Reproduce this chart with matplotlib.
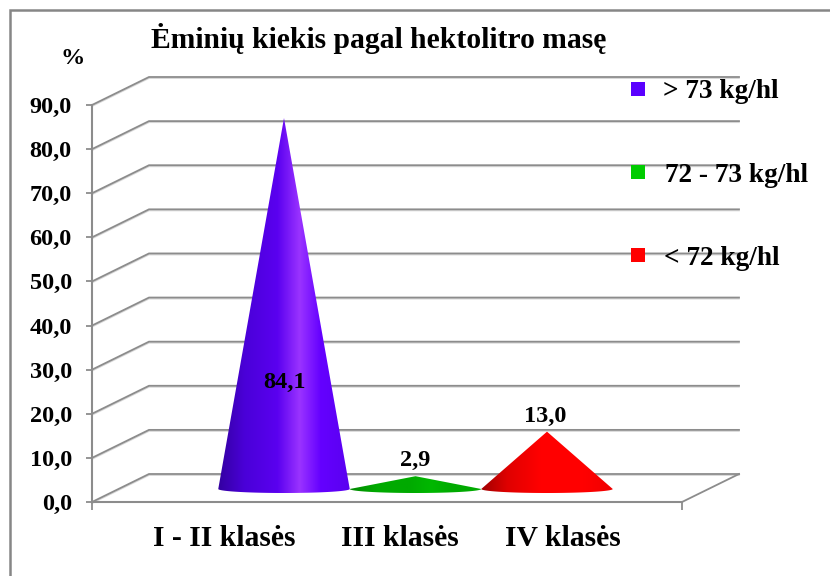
import numpy as np
import matplotlib
matplotlib.use("Agg")
import matplotlib.pyplot as plt
from matplotlib.colors import LinearSegmentedColormap
from matplotlib.patches import Polygon, Rectangle

plt.rcParams['font.family'] = ['Liberation Serif', 'DejaVu Serif']
plt.rcParams['font.weight'] = 'bold'

title = 'Ėminių kiekis pagal hektolitro masę'
categories = ['I - II klasės', 'III klasės', 'IV klasės']
values = [84.1, 2.9, 13.0]
value_labels = ['84,1', '2,9', '13,0']
y_ticks = [0, 10, 20, 30, 40, 50, 60, 70, 80, 90]
y_tick_labels = ['0,0', '10,0', '20,0', '30,0', '40,0', '50,0', '60,0', '70,0', '80,0', '90,0']
legend_labels = ['> 73 kg/hl', '72 - 73 kg/hl', '< 72 kg/hl']
legend_colors = ['#5a00ff', '#00cc00', '#ff0000']

# horizontal shading of each cone, left to right
cone_shades = [
    ['#3300a0', '#4a00d8', '#5a00f0', '#9a33ff', '#6400ff', '#5a00f0'],
    ['#008800', '#00aa00', '#00aa00', '#00b800', '#00aa00', '#00aa00'],
    ['#a00000', '#e00000', '#ff0000', '#ff0000', '#ff0000', '#f00000'],
]

W, H = 830, 576
GRID = '#8c8c8c'
SHADOW = '#d8d8d8'

fig = plt.figure(figsize=(W / 100, H / 100), dpi=100)
# pixel box of the front plane
ax = fig.add_axes([92 / W, 1 - 502 / H, 590 / W, 397 / H])
ax.patch.set_visible(False)

# outer frame runs off the picture at right and bottom
fig.add_artist(Rectangle((10 / W, -0.1), 1.1, 1.1 - 10 / H,
                         transform=fig.transFigure, fill=False, ec='#868686', lw=1.8))

px_x = 131.5  # pixels per category
px_y = 397 / 90  # pixels per percent
xlim = ((92 - 284) / px_x, (682 - 284) / px_x)
ax.set_xlim(xlim)
ax.set_ylim(0, 90)

depth_x = 57 / px_x
depth_y = 28 / px_y

for t in y_ticks:
    bx = [xlim[0], xlim[0] + depth_x, xlim[1] + depth_x]
    by = [t, t + depth_y, t + depth_y]
    ax.plot(bx, np.array(by) - 1 / px_y * 1.2, color=SHADOW, lw=1.1, clip_on=False, zorder=1)
    ax.plot(bx, by, color=GRID, lw=1.3, clip_on=False, zorder=2, solid_joinstyle='miter')
# floor right edge
ax.plot([xlim[1], xlim[1] + depth_x], [0, depth_y], color=GRID, lw=1.3, clip_on=False, zorder=2)

# cones
base_y = 13 / px_y
half_w = 0.5
half_h = 4 / px_y
for i, v in enumerate(values):
    tt = np.linspace(np.pi, 2 * np.pi, 60)
    ex = i + half_w * np.cos(tt)
    ey = base_y + half_h * np.sin(tt)
    pts = np.column_stack([np.r_[ex, i], np.r_[ey, base_y + v]])
    cmap = LinearSegmentedColormap.from_list(
        'cone%d' % i, list(zip([0, 0.2, 0.45, 0.62, 0.78, 1], cone_shades[i])))
    im = ax.imshow(np.linspace(0, 1, 256).reshape(1, -1), cmap=cmap, aspect='auto',
                   extent=(i - half_w, i + half_w, base_y - half_h, base_y + v),
                   zorder=3, clip_on=True, interpolation='bilinear')
    clip = Polygon(pts, closed=True, transform=ax.transData)
    im.set_clip_path(clip)
ax.set_xlim(xlim)
ax.set_ylim(0, 90)

# value labels
label_pos = [(0, 27.2), (1, 9.5), (1.985, 19.4)]
for (lx, ly), s in zip(label_pos, value_labels):
    ax.text(lx, ly, s, ha='center', va='center', fontsize=17.5, color='black', zorder=5)

# axes
for s in ['top', 'right']:
    ax.spines[s].set_visible(False)
for s in ['left', 'bottom']:
    ax.spines[s].set_color(GRID)
    ax.spines[s].set_linewidth(1.5)
ax.spines['left'].set_zorder(2)
ax.set_yticks(y_ticks)
ax.set_yticklabels(y_tick_labels, fontsize=17.5, color='black')
ax.tick_params(axis='y', length=4.5, width=1.3, color=GRID, pad=10)
ax.set_xticks(xlim)
ax.set_xticklabels(['', ''])
ax.tick_params(axis='x', length=6, width=1.3, color=GRID)


def px_text(x, y, s, size, ha='center'):
    fig.text(x / W, 1 - y / H, s, ha=ha, va='center', fontsize=size, color='black', zorder=10)


px_text(379, 38, title, 21.3)
px_text(73, 59, '%', 17.5)

for x, s in zip([224, 400, 563], categories):
    px_text(x, 539, s, 21.3)

# legend keys sit over the grid lines
for y, s, c, tx in zip([89, 172, 255], legend_labels, legend_colors, [663, 665, 664]):
    fig.add_artist(Rectangle((631 / W, 1 - (y + 7) / H), 13.5 / W, 14 / H,
                             transform=fig.transFigure, fc=c, ec='none', zorder=9))
    px_text(tx, y + 3, s, 19.6, ha='left')

fig.savefig('out.png', dpi=100)
